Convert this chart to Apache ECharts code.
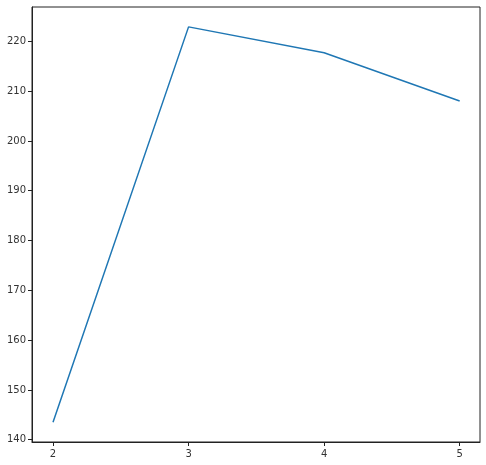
<!DOCTYPE html>
<html>
<head>
<meta charset="utf-8">
<script src="https://cdn.jsdelivr.net/npm/echarts@6/dist/echarts.min.js"></script>
<style>
  html, body { margin: 0; padding: 0; background: #fff; }
  #chart { width: 486px; height: 465px; }
</style>
</head>
<body>
<div id="chart"></div>
<script>
const xValues = [2, 3, 4, 5];
const yValues = [143.5, 222.9, 217.7, 208.0];
const xTicks = [2, 3, 4, 5];
const yTicks = [140, 150, 160, 170, 180, 190, 200, 210, 220];

const chart = echarts.init(document.getElementById("chart"));

const axisCommon = {
  type: "value",
  axisLine: { show: true, lineStyle: { color: "#222", width: 1 } },
  axisTick: { show: true, length: 4, lineStyle: { color: "#222", width: 1 } },
  axisLabel: {
    color: "#333",
    fontSize: 10,
    fontFamily: "DejaVu Sans",
  },
  splitLine: { show: false },
};

chart.setOption({
  animation: false,
  backgroundColor: "#fff",
  grid: {
    left: 32,
    right: 6,
    top: 7,
    bottom: 23,
    show: true,
    borderColor: "#222",
    borderWidth: 1,
  },
  xAxis: Object.assign({}, axisCommon, {
    min: 1.845,
    max: 5.15,
    axisTick: Object.assign({}, axisCommon.axisTick, { customValues: xTicks }),
    axisLabel: Object.assign({}, axisCommon.axisLabel, { customValues: xTicks, margin: 7 }),
  }),
  yAxis: Object.assign({}, axisCommon, {
    min: 139.54,
    max: 226.89,
    axisTick: Object.assign({}, axisCommon.axisTick, { customValues: yTicks }),
    axisLabel: Object.assign({}, axisCommon.axisLabel, { customValues: yTicks, margin: 6 }),
  }),
  series: [
    {
      type: "line",
      data: xValues.map((x, i) => [x, yValues[i]]),
      showSymbol: false,
      lineStyle: { color: "#1f77b4", width: 1.5 },
    },
  ],
});
</script>
</body>
</html>
